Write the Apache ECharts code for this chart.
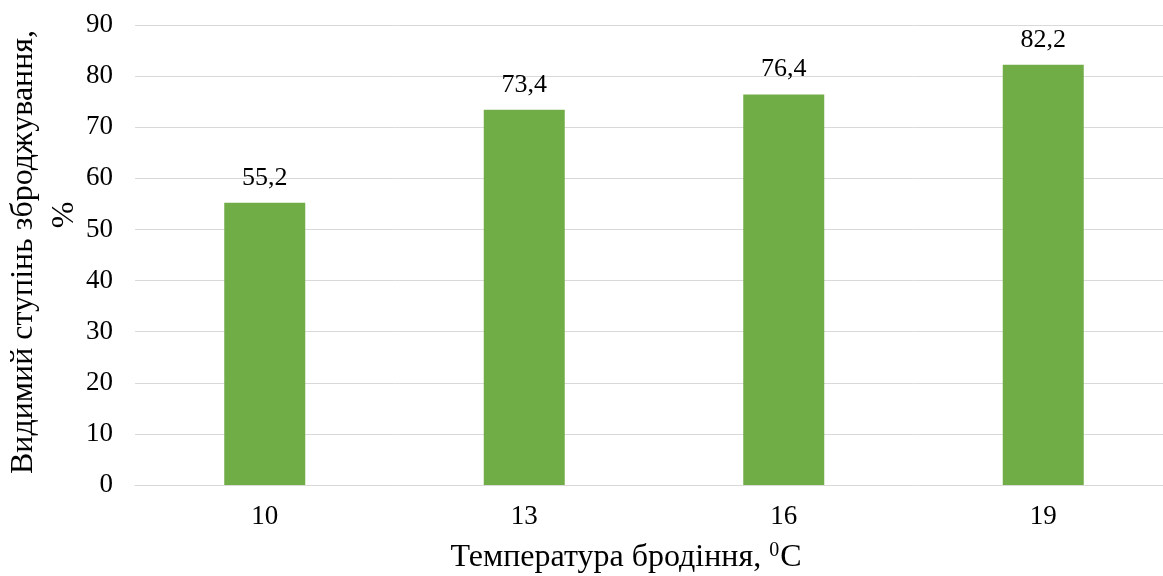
<!DOCTYPE html>
<html>
<head>
<meta charset="utf-8">
<script src="https://cdn.jsdelivr.net/npm/echarts@6/dist/echarts.min.js"></script>
<style>
  html, body { margin: 0; padding: 0; background: #fff; overflow: hidden; }
  /* the plot runs slightly past the right edge of the window */
  #chart { width: 1173px; height: 576px; }
</style>
</head>
<body>
<div id="chart"></div>
<script>
// Fermentation temperature, °C
const temperatures = ['10', '13', '16', '19'];
// Apparent degree of fermentation, %
const fermentationDegree = [55.2, 73.4, 76.4, 82.2];
// Value axis settings
const yMin = 0;
const yMax = 90;
const yStep = 10;

const FONT = '"Liberation Serif", "Times New Roman", serif';

const chart = echarts.init(document.getElementById('chart'), null, { renderer: 'canvas' });

chart.setOption({
  animation: false,
  backgroundColor: '#ffffff',
  textStyle: { fontFamily: FONT },
  grid: { left: 135, top: 25, right: 0, bottom: 91, containLabel: false },
  xAxis: {
    type: 'category',
    data: temperatures,
    axisLine: { show: true, lineStyle: { color: '#d9d9d9', width: 1 } },
    axisTick: { show: false },
    axisLabel: { color: '#000', fontFamily: FONT, fontSize: 27, margin: 18 },
    splitLine: { show: false }
  },
  yAxis: {
    type: 'value',
    min: yMin,
    max: yMax,
    interval: yStep,
    axisLine: { show: false },
    axisTick: { show: false },
    axisLabel: { color: '#000', fontFamily: FONT, fontSize: 27, margin: 22 },
    splitLine: { show: true, lineStyle: { color: '#d9d9d9', width: 1 } }
  },
  series: [{
    type: 'bar',
    data: fermentationDegree,
    barWidth: 81,
    itemStyle: { color: '#70ad47' },
    label: {
      show: true,
      position: 'top',
      distance: 12,
      color: '#000',
      fontFamily: FONT,
      fontSize: 26,
      formatter: p => String(p.value).replace('.', ',')
    }
  }],
  graphic: [
    {
      type: 'text',
      x: 626,
      y: 558,
      style: {
        text: '{t|Температура бродіння, }{sup|0}{t|C}',
        rich: {
          t: { fontFamily: FONT, fontSize: 32, color: '#000', lineHeight: 34 },
          sup: { fontFamily: FONT, fontSize: 20, color: '#000', verticalAlign: 'top', lineHeight: 34, padding: [0, 1, 0, 0] }
        },
        textAlign: 'center',
        textVerticalAlign: 'middle'
      }
    },
    {
      type: 'text',
      x: 24,
      y: 252,
      rotation: Math.PI / 2,
      style: {
        text: 'Видимий ступінь зброджування,',
        font: '32px ' + FONT,
        fill: '#000',
        textAlign: 'center',
        textVerticalAlign: 'middle'
      }
    },
    {
      type: 'text',
      x: 65,
      y: 215,
      rotation: Math.PI / 2,
      style: {
        text: '%',
        font: '32px ' + FONT,
        fill: '#000',
        textAlign: 'center',
        textVerticalAlign: 'middle'
      }
    }
  ]
});
</script>
</body>
</html>
